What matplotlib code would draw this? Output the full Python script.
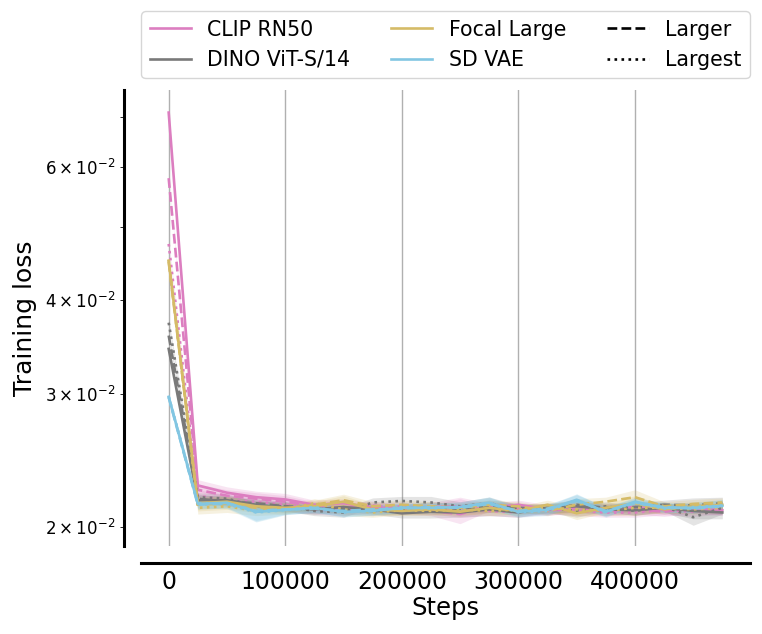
import matplotlib
matplotlib.use("Agg")
import matplotlib.pyplot as plt
import numpy as np
from matplotlib.lines import Line2D

steps = [i * 25000 for i in range(20)]

models = ["CLIP RN50", "DINO ViT-S/14", "Focal Large", "SD VAE"]
colors = ["#dc7ec0", "#797979", "#d5bb67", "#82c6e2"]
sizes = ["Base", "Larger", "Largest"]
size_styles = ["-", "--", ":"]

clip_base = [0.07086, 0.02270, 0.02220, 0.02190, 0.02175, 0.02140, 0.02150, 0.02120, 0.02110, 0.02125,
             0.02130, 0.02120, 0.02140, 0.02110, 0.02130, 0.02115, 0.02125, 0.02110, 0.02120, 0.02105]
clip_larger = [0.0580, 0.02240, 0.02200, 0.02180, 0.02160, 0.02130, 0.02120, 0.02135, 0.02110, 0.02100,
               0.02080, 0.02130, 0.02115, 0.02100, 0.02120, 0.02100, 0.02110, 0.02095, 0.02115, 0.02100]
clip_largest = [0.04745, 0.02200, 0.02170, 0.02160, 0.02140, 0.02110, 0.02100, 0.02120, 0.02130, 0.02110,
                0.02120, 0.02100, 0.02090, 0.02110, 0.02100, 0.02090, 0.02090, 0.02105, 0.02095, 0.02110]

dino_base = [0.03444, 0.02170, 0.02170, 0.02140, 0.02120, 0.02110, 0.02125, 0.02110, 0.02085, 0.02095,
             0.02090, 0.02110, 0.02090, 0.02120, 0.02130, 0.02110, 0.02105, 0.02120, 0.02100, 0.02090]
dino_larger = [0.03587, 0.02180, 0.02160, 0.02150, 0.02130, 0.02120, 0.02110, 0.02100, 0.02110, 0.02120,
               0.02115, 0.02130, 0.02120, 0.02110, 0.02140, 0.02120, 0.02125, 0.02140, 0.02135, 0.02150]
dino_largest = [0.03731, 0.02190, 0.02180, 0.02130, 0.02130, 0.02100, 0.02090, 0.02155, 0.02165, 0.02155,
                0.02130, 0.02150, 0.02110, 0.02120, 0.02100, 0.02130, 0.02100, 0.02130, 0.02060, 0.02120]

focal_base = [0.04508, 0.02150, 0.02160, 0.02130, 0.02120, 0.02130, 0.02160, 0.02110, 0.02100, 0.02110,
              0.02095, 0.02120, 0.02100, 0.02140, 0.02085, 0.02120, 0.02150, 0.02110, 0.02130, 0.02140]
focal_larger = [0.04490, 0.02140, 0.02150, 0.02120, 0.02110, 0.02140, 0.02170, 0.02130, 0.02140, 0.02130,
                0.02120, 0.02140, 0.02130, 0.02100, 0.02140, 0.02160, 0.02190, 0.02130, 0.02145, 0.02155]
focal_largest = [0.04520, 0.02120, 0.02130, 0.02100, 0.02110, 0.02150, 0.02110, 0.02090, 0.02105, 0.02100,
                 0.02110, 0.02100, 0.02110, 0.02120, 0.02110, 0.02100, 0.02120, 0.02120, 0.02110, 0.02120]

vae_base = [0.02975, 0.02146, 0.02153, 0.02094, 0.02107, 0.02120, 0.02094, 0.02100, 0.02120, 0.02120,
            0.02125, 0.02153, 0.02094, 0.02107, 0.02173, 0.02094, 0.02160, 0.02120, 0.02120, 0.02133]
vae_larger = [0.02970, 0.02140, 0.02150, 0.02100, 0.02110, 0.02115, 0.02100, 0.02110, 0.02115, 0.02125,
              0.02120, 0.02145, 0.02100, 0.02115, 0.02165, 0.02100, 0.02150, 0.02125, 0.02115, 0.02130]
vae_largest = [0.02980, 0.02150, 0.02145, 0.02090, 0.02105, 0.02125, 0.02090, 0.02105, 0.02125, 0.02115,
               0.02130, 0.02150, 0.02090, 0.02100, 0.02170, 0.02090, 0.02155, 0.02115, 0.02125, 0.02135]

clip_band = [0.0004, 0.0004, 0.0004, 0.0004, 0.0004, 0.0003, 0.0003, 0.0003, 0.0003, 0.0003,
             0.0006, 0.0003, 0.0003, 0.0003, 0.0003, 0.0003, 0.0003, 0.0003, 0.0003, 0.0003]
dino_band = [0.0004, 0.0003, 0.0003, 0.0003, 0.0003, 0.0003, 0.0003, 0.0003, 0.0003, 0.0004,
             0.0003, 0.0004, 0.0003, 0.0003, 0.0004, 0.0003, 0.0003, 0.0003, 0.0005, 0.0004]
focal_band = [0.0004, 0.0004, 0.0004, 0.0003, 0.0003, 0.0003, 0.0004, 0.0003, 0.0003, 0.0003,
              0.0003, 0.0003, 0.0003, 0.0003, 0.0004, 0.0003, 0.0005, 0.0003, 0.0003, 0.0003]
vae_band = [0.0003, 0.0003, 0.0003, 0.0006, 0.0003, 0.0003, 0.0003, 0.0003, 0.0003, 0.0003,
            0.0003, 0.0004, 0.0003, 0.0003, 0.0004, 0.0003, 0.0003, 0.0003, 0.0003, 0.0004]

series = {
    "CLIP RN50": [clip_base, clip_larger, clip_largest],
    "DINO ViT-S/14": [dino_base, dino_larger, dino_largest],
    "Focal Large": [focal_base, focal_larger, focal_largest],
    "SD VAE": [vae_base, vae_larger, vae_largest],
}
bands = {
    "CLIP RN50": clip_band,
    "DINO ViT-S/14": dino_band,
    "Focal Large": focal_band,
    "SD VAE": vae_band,
}

fig = plt.figure(figsize=(7.62, 6.34), dpi=100)
ax = fig.add_axes([141 / 762, 1 - 546 / 634, (750 - 141) / 762, (546 - 90) / 634])

x = np.array(steps)
for m, c in zip(models, colors):
    b = np.array(bands[m])
    for vals, ls in zip(series[m], size_styles):
        y = np.array(vals)
        ax.fill_between(x, y - b, y + b, color=c, alpha=0.2, linewidth=0)
        ax.plot(x, y, color=c, linestyle=ls, linewidth=1.9)

ax.set_yscale("log")
ax.grid(axis="x", color="#b0b0b0", linewidth=1.0)
ax.set_axisbelow(True)

for s in ["top", "right"]:
    ax.spines[s].set_visible(False)
ax.spines["left"].set_position(("outward", 12))
ax.spines["bottom"].set_position(("outward", 12))
ax.spines["left"].set_linewidth(2.2)
ax.spines["bottom"].set_linewidth(2.2)

ax.tick_params(axis="x", length=0, labelsize=17, pad=5)
ax.tick_params(axis="y", which="both", labelsize=12)
ax.tick_params(axis="y", which="minor", length=3)

ax.set_xlabel("Steps", fontsize=17.5, labelpad=2)
ax.set_ylabel("Training loss", fontsize=18, labelpad=6)

handles = [Line2D([], [], color=c, lw=1.9, label=m) for m, c in zip(models, colors)]
handles += [Line2D([], [], color="black", lw=1.9, ls=ls, label=s)
            for s, ls in zip(sizes[1:], size_styles[1:])]
ax.legend(handles=handles, ncol=3, loc="lower center", bbox_to_anchor=(0.5, 1.026),
          borderaxespad=0, fontsize=14.8, frameon=True)

fig.savefig("out.png", dpi=100)
